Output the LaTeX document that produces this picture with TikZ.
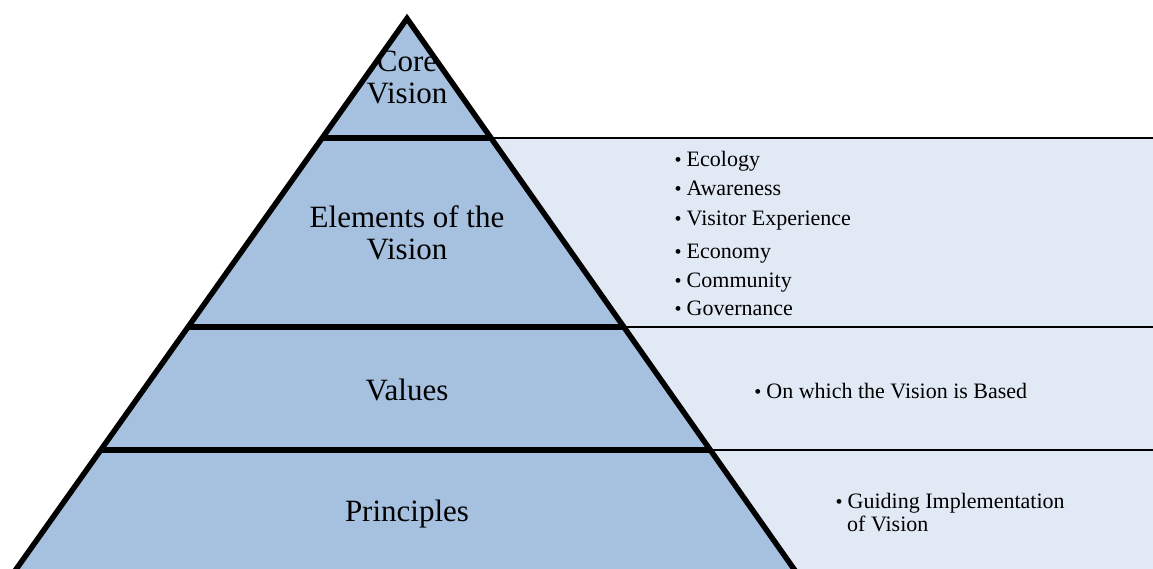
\documentclass[tikz,border=0pt]{standalone}
\usepackage{fontspec}
\setmainfont{Liberation Serif}
\definecolor{pyrfill}{HTML}{A6C1DF}
\definecolor{panelfill}{HTML}{E1E9F4}
\newcommand{\mybul}{{\fontsize{20}{20}\selectfont\char"2022}\hspace{5pt}}
\tikzset{
  big/.style={font=\fontsize{31}{31}\selectfont, inner sep=0pt, anchor=base},
  item/.style={font=\fontsize{22}{22}\selectfont, inner sep=0pt, anchor=base west},
  thick line/.style={line width=5.5pt, line join=miter, miter limit=20},
  thin line/.style={line width=1.4pt},
}
\begin{document}
\begin{tikzpicture}[x=1pt,y=-1pt]
\useasboundingbox (0,0) rectangle (1153,569);
\clip (0,0) rectangle (1153,569);
% geometry
\coordinate (apex) at (407,18.5);
\coordinate (bl) at (-5,599);
\coordinate (br) at (815,599);
\coordinate (l1) at (322,138);   \coordinate (r1) at (491,138);
\coordinate (l2) at (187.5,327); \coordinate (r2) at (623.9,327);
\coordinate (l3) at (100.5,450); \coordinate (r3) at (710.5,450);
\coordinate (e1) at (1160,138);
\coordinate (e2) at (1160,327);
\coordinate (e3) at (1160,450);
% right panel
\fill[panelfill] (400,138) rectangle (1160,600);
\draw[thin line] (r1) -- (e1);
\draw[thin line] (r2) -- (e2);
\draw[thin line] (r3) -- (e3);
% pyramid
\fill[pyrfill] (apex) -- (br) -- (bl) -- cycle;
\draw[thick line] (l1) -- (r1);
\draw[thick line] (l2) -- (r2);
\draw[thick line] (l3) -- (r3);
\draw[thick line] (bl) -- (apex) -- (br);
% pyramid labels
\node[big] (core1) at (407,71.7) {Core};
\node[big] (core2) at (407,103.3) {Vision};
\node[big] (elem1) at (407,227.7) {Elements of the};
\node[big] (elem2) at (407,260) {Vision};
\node[big] (values) at (407,400) {Values};
\node[big] (princ) at (407,521.7) {Principles};
% bullet lists
\node[item] (b1) at (674.5,166.7) {\mybul Ecology};
\node[item] (b2) at (674.5,195.7) {\mybul Awareness};
\node[item] (b3) at (674.5,225.7) {\mybul Visitor Experience};
\node[item] (b4) at (674.5,258.3) {\mybul Economy};
\node[item] (b5) at (674.5,287.3) {\mybul Community};
\node[item] (b6) at (674.5,315.7) {\mybul Governance};
\node[item] (v1) at (754.2,398.3) {\mybul On which the Vision is Based};
\node[item] (p1) at (835.5,508.3) {\mybul Guiding Implementation};
\node[item] (p2) at (847,531) {of Vision};
\end{tikzpicture}
\end{document}
